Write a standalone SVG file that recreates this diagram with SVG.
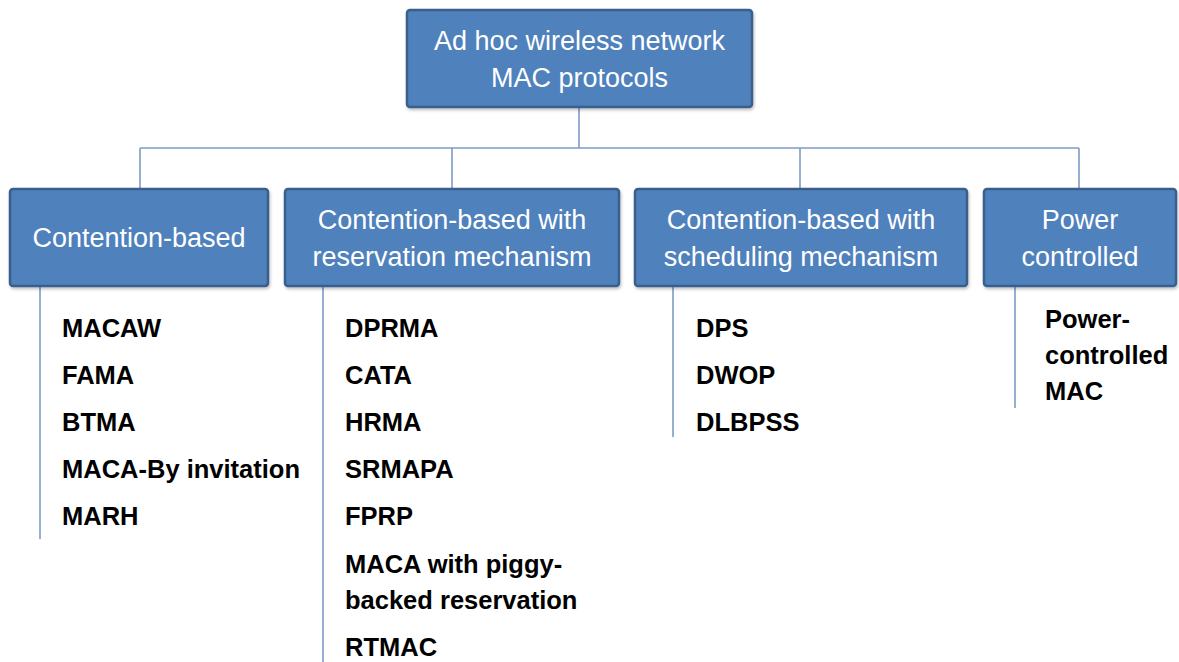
<svg xmlns="http://www.w3.org/2000/svg" width="1179" height="662" viewBox="0 0 1179 662">
<defs>
<style>
.box{fill:#4F81BD;stroke:#3A5F8C;stroke-width:2.5}
.bt{font-family:"Liberation Sans",Arial,sans-serif;font-size:27px;fill:#ffffff;text-anchor:middle}
.it{font-family:"Liberation Sans",Arial,sans-serif;font-size:25.5px;font-weight:bold;fill:#000000}
.conn{stroke:#7D9CC7;stroke-width:1.6;fill:none}
</style>
<filter id="sh" x="-5%" y="-5%" width="112%" height="120%">
<feDropShadow dx="1" dy="2" stdDeviation="1.5" flood-color="#000" flood-opacity="0.25"/>
</filter>
</defs>
<rect width="1179" height="662" fill="#ffffff"/>
<g id="connectors">
<path class="conn" d="M579 107V148M140 148H1079M140 148V189M452 148V189M800 148V189M1079 148V189"/>
<path class="conn" d="M40 286V539M323 286V662M673 286V437M1015 286V408"/>
</g>
<g id="root">
<rect class="box" x="407" y="10" width="345" height="97" rx="3" filter="url(#sh)"/>
<text class="bt" x="579.5" y="50">Ad hoc wireless network</text>
<text class="bt" x="579.5" y="87">MAC protocols</text>
</g>
<g id="contention-based">
<rect class="box" x="10" y="189" width="258" height="97" rx="3" filter="url(#sh)"/>
<text class="bt" x="139" y="247">Contention-based</text>
</g>
<g id="reservation">
<rect class="box" x="285" y="189" width="334" height="97" rx="3" filter="url(#sh)"/>
<text class="bt" x="452" y="229">Contention-based with</text>
<text class="bt" x="452" y="266">reservation mechanism</text>
</g>
<g id="scheduling">
<rect class="box" x="635" y="189" width="332" height="97" rx="3" filter="url(#sh)"/>
<text class="bt" x="801" y="229">Contention-based with</text>
<text class="bt" x="801" y="266">scheduling mechanism</text>
</g>
<g id="power">
<rect class="box" x="984" y="189" width="192" height="97" rx="3" filter="url(#sh)"/>
<text class="bt" x="1080" y="229">Power</text>
<text class="bt" x="1080" y="266">controlled</text>
</g>
<g id="list-contention">
<text class="it" x="62" y="337">MACAW</text>
<text class="it" x="62" y="384">FAMA</text>
<text class="it" x="62" y="431">BTMA</text>
<text class="it" x="62" y="478">MACA-By invitation</text>
<text class="it" x="62" y="525">MARH</text>
</g>
<g id="list-reservation">
<text class="it" x="345" y="337">DPRMA</text>
<text class="it" x="345" y="384">CATA</text>
<text class="it" x="345" y="431">HRMA</text>
<text class="it" x="345" y="478">SRMAPA</text>
<text class="it" x="345" y="525">FPRP</text>
<text class="it" x="345" y="573">MACA with piggy-</text>
<text class="it" x="345" y="609">backed reservation</text>
<text class="it" x="345" y="656">RTMAC</text>
</g>
<g id="list-scheduling">
<text class="it" x="696" y="337">DPS</text>
<text class="it" x="696" y="384">DWOP</text>
<text class="it" x="696" y="431">DLBPSS</text>
</g>
<g id="list-power">
<text class="it" x="1045" y="328">Power-</text>
<text class="it" x="1045" y="364">controlled</text>
<text class="it" x="1045" y="400">MAC</text>
</g>
</svg>
